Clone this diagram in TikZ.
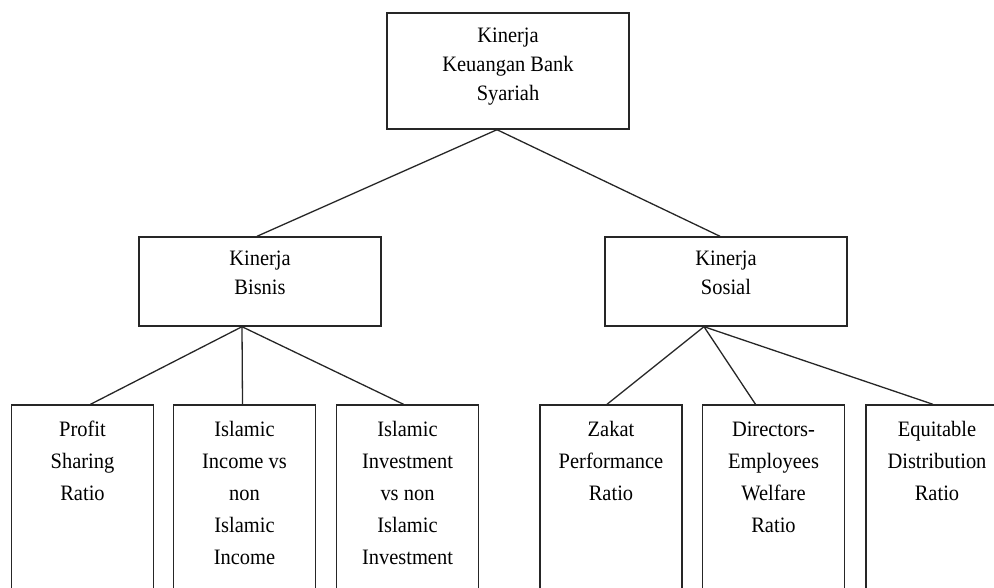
\documentclass[tikz,border=0pt]{standalone}
\usepackage{fontspec}
\setmainfont{Liberation Serif}[FakeStretch=0.93]

\begin{document}
\begin{tikzpicture}[x=1pt,y=-1pt]

    \tikzset{
      box/.style={
        draw=black!85,
        line width=1.4pt,
        inner sep=0pt,
        minimum width=242pt,
        minimum height=89pt,
      },
      leafbox/.style={box, minimum width=142pt, minimum height=230pt},
      boxtext/.style={anchor=north, inner sep=0pt, align=center, font=\fontsize{22}{29}\selectfont},
      leaftext/.style={boxtext, font=\fontsize{22}{32}\selectfont},
      link/.style={draw=black!85, line width=1.3pt},
    }
    \useasboundingbox (0,0) rectangle (994,587);
    \clip (0,0) rectangle (994,587);

	% root
	\node[box, minimum height=116pt] (kinerja) at (508,71) {};
	\node[boxtext] (kinerjatext) at ([yshift=-15pt]kinerja.north) {Kinerja\\Keuangan Bank\\Syariah};

	% second level
	\node[box] (bisnis) at (260,281.5) {};
	\node[boxtext] (bisnistext) at ([yshift=-14pt]bisnis.north) {Kinerja\\Bisnis};
	\node[box] (sosial) at (726,281.5) {};
	\node[boxtext] (sosialtext) at ([yshift=-14pt]sosial.north) {Kinerja\\Sosial};

	% ratios
	\node[leafbox] (profit) at (82.5,520) {};
	\node[leaftext] (profittext) at ([yshift=-17pt]profit.north) {Profit\\Sharing\\Ratio};
	\node[leafbox] (income) at (244.5,520) {};
	\node[leaftext] (incometext) at ([yshift=-17pt]income.north) {Islamic\\Income vs\\non\\Islamic\\Income};
	\node[leafbox] (invest) at (407.5,520) {};
	\node[leaftext] (investtext) at ([yshift=-17pt]invest.north) {Islamic\\Investment\\vs non\\Islamic\\Investment};
	\node[leafbox] (zakat) at (611,520) {};
	\node[leaftext] (zakattext) at ([yshift=-17pt]zakat.north) {Zakat\\Performance\\Ratio};
	\node[leafbox] (welfare) at (773.5,520) {};
	\node[leaftext] (welfaretext) at ([yshift=-17pt]welfare.north) {Directors-\\Employees\\Welfare\\Ratio};
	\node[leafbox] (equitable) at (937,520) {};
	\node[leaftext] (equitabletext) at ([yshift=-17pt]equitable.north) {Equitable\\Distribution\\Ratio};

	% links
	\draw[link] ([xshift=-11pt]kinerja.south) -- ([xshift=-3pt]bisnis.north);
	\draw[link] ([xshift=-11pt]kinerja.south) -- ([xshift=-6pt]sosial.north);
	\draw[link] ([xshift=-18pt]bisnis.south) -- ([xshift=8pt]profit.north);
	\draw[link] ([xshift=-18pt]bisnis.south) -- ([xshift=-2pt]income.north);
	\draw[link] ([xshift=-18pt]bisnis.south) -- ([xshift=-4pt]invest.north);
	\draw[link] ([xshift=-22pt]sosial.south) -- ([xshift=-4pt]zakat.north);
	\draw[link] ([xshift=-22pt]sosial.south) -- ([xshift=-18pt]welfare.north);
	\draw[link] ([xshift=-22pt]sosial.south) -- ([xshift=-4pt]equitable.north);

\end{tikzpicture}
\end{document}
